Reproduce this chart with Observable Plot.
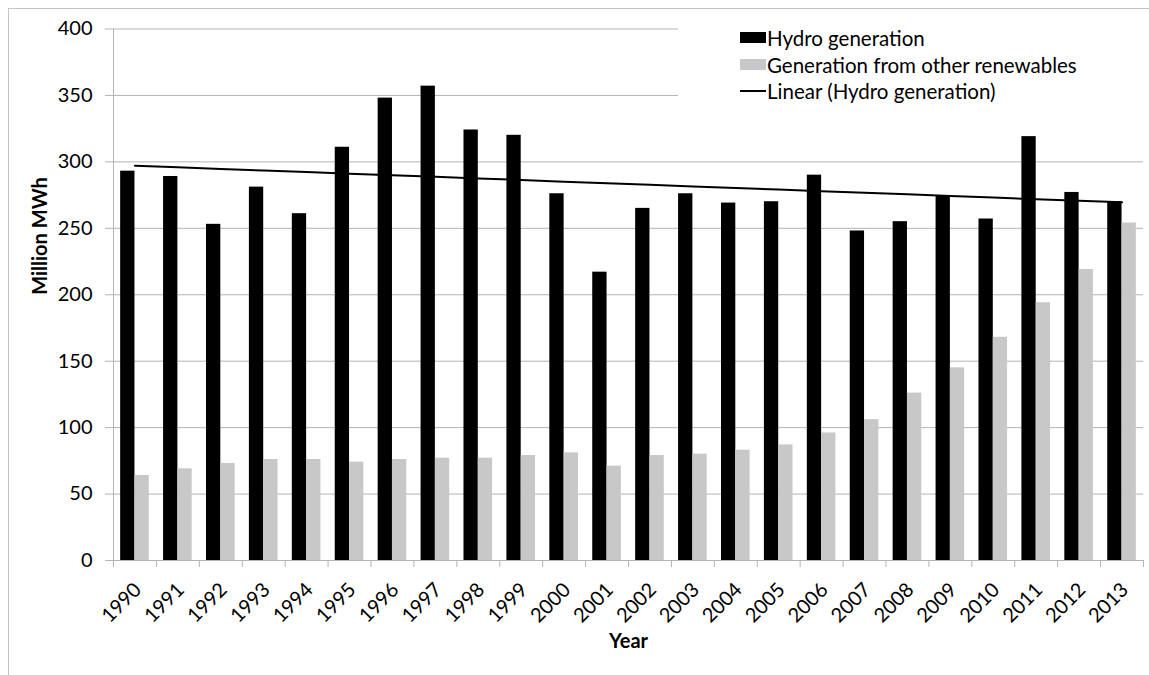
<!DOCTYPE html>
<html>
<head>
<meta charset="utf-8">
<script src="https://cdn.jsdelivr.net/npm/d3@7"></script>
<script src="https://cdn.jsdelivr.net/npm/@observablehq/plot@0.6"></script>
<style>
  html, body { margin: 0; padding: 0; background: #fff; }
  #wrap { position: relative; width: 1149px; height: 675px; overflow: hidden; font-family: Lato, "Open Sans", sans-serif; }
  #border { position: absolute; left: 8px; top: 8px; right: -2px; bottom: -2px; border-top: 1px solid #c4c4c4; border-left: 1px solid #c4c4c4; }
  #legend { position: absolute; left: 678px; top: 18px; width: 471px; height: 88px; background: #fff; }
  .row { position: absolute; left: 62px; height: 27px; display: flex; align-items: center; font-size: 20.5px; color: #000; white-space: nowrap; }
  .sw { width: 26px; height: 11px; margin-right: 1px; }
  .ln { width: 26px; height: 2px; background: #000; margin-right: 1px; }
</style>
</head>
<body>
<div id="wrap">
  <div id="border"></div>
  <div id="chart" style="position:absolute;left:0;top:0"></div>
  <div id="legend">
    <div class="row" style="top:6px"><div class="sw" style="background:#000"></div>Hydro generation</div>
    <div class="row" style="top:33px"><div class="sw" style="background:#c8c8c8"></div>Generation from other renewables</div>
    <div class="row" style="top:59px"><div class="ln"></div>Linear (Hydro generation)</div>
  </div>
</div>
<script>
const years = ["1990","1991","1992","1993","1994","1995","1996","1997","1998","1999","2000","2001","2002","2003","2004","2005","2006","2007","2008","2009","2010","2011","2012","2013"];
const hydro = [293,289,253,281,261,311,348,357,324,320,276,217,265,276,269,270,290,248,255,274,257,319,277,270];
const other = [64,69,73,76,76,74,76,77,77,79,81,71,79,80,83,87,96,106,126,145,168,194,219,254];
const yTicks = [0,50,100,150,200,250,300,350,400];

const data = years.map((year, i) => ({year, hydro: hydro[i], other: other[i], idx: i}));

// Linear trend of hydro generation (least squares over year index)
const mx = d3.mean(data, d => d.idx), my = d3.mean(data, d => d.hydro);
const slope = d3.sum(data, d => (d.idx - mx) * (d.hydro - my)) / d3.sum(data, d => (d.idx - mx) ** 2);
const trend = data.map(d => ({year: d.year, y: my + slope * (d.idx - mx)}));

const W = 1149, H = 675, mL = 113, mR = 6, mT = 28.5, mB = 115;
const bw = (W - mL - mR) / years.length;
const grey = "#b4b4b4";

const plot = Plot.plot({
  width: W, height: H,
  marginLeft: mL, marginRight: mR, marginTop: mT, marginBottom: mB,
  style: {fontFamily: "Lato, 'Open Sans', sans-serif", fontSize: "20px", color: "#000", background: "transparent", overflow: "visible"},
  x: {domain: years, padding: 0, round: false, axis: null},
  y: {domain: [0, 400], axis: null},
  marks: [
    Plot.gridY(yTicks, {stroke: grey, strokeOpacity: 1}),
    Plot.axisY({ticks: yTicks, tickSize: 8, tickPadding: 13, stroke: grey, strokeOpacity: 1, fontSize: 20, label: null}),
    Plot.ruleX([years[0]], {dx: -bw / 2, stroke: grey}),
    Plot.axisX({tickSize: 7, tickFormat: () => "", dx: -bw / 2, stroke: grey, strokeOpacity: 1, label: null}),
    Plot.axisX({ticks: [years[years.length - 1]], tickSize: 7, tickFormat: () => "", dx: bw / 2, stroke: grey, strokeOpacity: 1, label: null}),
    Plot.axisX({tickSize: 0, tickPadding: 26, tickRotate: -45, dx: 3, fontSize: 20, label: null}),
    Plot.barY(data, {x: "year", y: "hydro", fill: "#000", insetLeft: bw / 6, insetRight: bw / 2}),
    Plot.barY(data, {x: "year", y: "other", fill: "#c8c8c8", insetLeft: bw / 2, insetRight: bw / 6}),
    Plot.ruleY([0], {stroke: grey}),
    Plot.line(trend, {x: "year", y: "y", stroke: "#000", strokeWidth: 2}),
    Plot.text(["Year"], {frameAnchor: "bottom", dy: 87, fontWeight: "bold", fontSize: 20}),
    Plot.text(["Million MWh"], {frameAnchor: "left", dx: -73, rotate: -90, fontWeight: "bold", fontSize: 20})
  ]
});
document.getElementById("chart").appendChild(plot);
</script>
</body>
</html>
